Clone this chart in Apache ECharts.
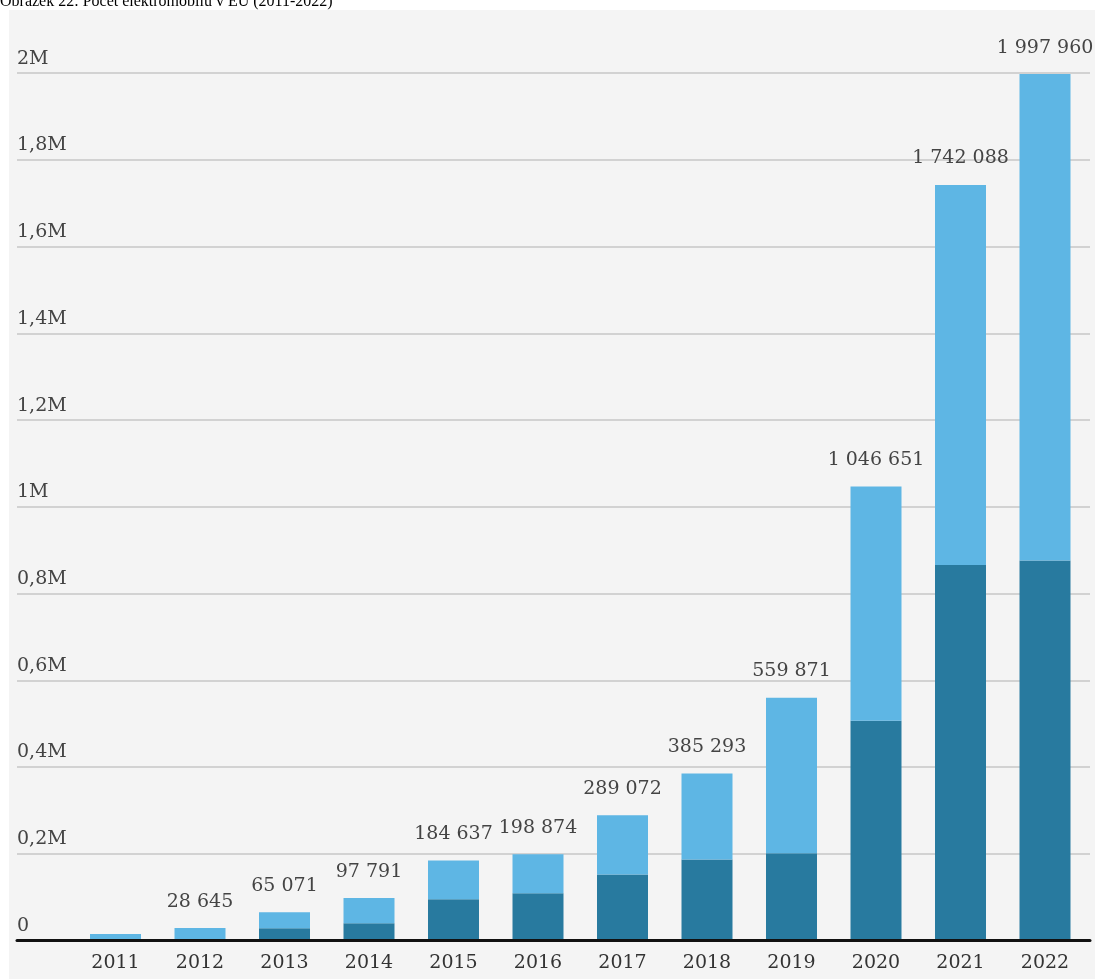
<!DOCTYPE html>
<html><head><meta charset="utf-8">
<script src="https://cdn.jsdelivr.net/npm/echarts@6/dist/echarts.min.js"></script>
<style>
html,body{margin:0;padding:0;background:#fff;}
#panel{position:absolute;left:9px;top:10px;width:1086px;height:969px;background:#f4f4f4;}
#chart{position:absolute;left:0;top:0;width:1095px;height:979px;}
</style></head><body>
<div id="panel"></div><div id="chart"></div>
<script>
const titleText = 'Obrázek 22: Počet elektromobilů v EU (2011-2022)';
const years = ['2011','2012','2013','2014','2015','2016','2017','2018','2019','2020','2021','2022'];
const totals = [15000, 28645, 65071, 97791, 184637, 198874, 289072, 385293, 559871, 1046651, 1742088, 1997960];
const darkValues = [1500, 3000, 28000, 40000, 95000, 109000, 152000, 187000, 201000, 507000, 866000, 876000];
const unlabelledYears = ['2011'];
const yMin = 0, yMax = 2000000, yStep = 200000;

const lightValues = totals.map((t, i) => t - darkValues[i]);
const fmtNum = n => String(n).replace(/\B(?=(\d{3})+(?!\d))/g, ' ');
const fmtY = v => v === 0 ? '0' : String(+(v / 1e6).toFixed(1)).replace('.', ',') + 'M';
const FONT = 'DejaVu Serif';

const chart = echarts.init(document.getElementById('chart'), null, {renderer: 'canvas'});
chart.setOption({
  backgroundColor: 'transparent',
  animation: false,
  title: {
    text: titleText, left: 0, top: -6, padding: 0,
    textStyle: {fontFamily: 'Liberation Serif', fontSize: 16, fontWeight: 'normal', color: '#000'}
  },
  grid: [
    {left: 17, right: 5, top: 73.2, bottom: 38.5, containLabel: false},
    {left: 73.25, right: 7.75, top: 73.2, bottom: 38.5, containLabel: false}
  ],
  xAxis: [
    {gridIndex: 0, type: 'category', data: [''], axisLine: {lineStyle: {color: '#111', width: 3}},
     axisTick: {show: false}, axisLabel: {show: false}, z: 10},
    {gridIndex: 1, type: 'category', data: years, axisLine: {show: false}, axisTick: {show: false},
     axisLabel: {margin: 13, color: '#333', fontFamily: FONT, fontSize: 19}}
  ],
  yAxis: [
    {gridIndex: 0, type: 'value', min: yMin, max: yMax, interval: yStep,
     axisLine: {show: false}, axisTick: {show: false},
     splitLine: {lineStyle: {color: '#d2d2d2', width: 2}},
     axisLabel: {inside: true, margin: 0, verticalAlign: 'bottom', padding: [0, 0, 5, 0],
       color: '#444', fontFamily: FONT, fontSize: 19, formatter: fmtY}},
    {gridIndex: 1, type: 'value', min: yMin, max: yMax, interval: yStep, show: false}
  ],
  series: [
    {type: 'bar', xAxisIndex: 1, yAxisIndex: 1, stack: 'ev', data: darkValues, barWidth: 51,
     itemStyle: {color: '#287a9f'}, z: 3},
    {type: 'bar', xAxisIndex: 1, yAxisIndex: 1, stack: 'ev', data: lightValues, barWidth: 51,
     itemStyle: {color: '#5eb6e4'}, z: 3,
     label: {show: true, position: 'top', distance: 17, color: '#444', fontFamily: FONT, fontSize: 19,
       formatter: p => unlabelledYears.includes(p.name) ? '' : fmtNum(totals[p.dataIndex])}}
  ]
});
</script>
</body></html>
